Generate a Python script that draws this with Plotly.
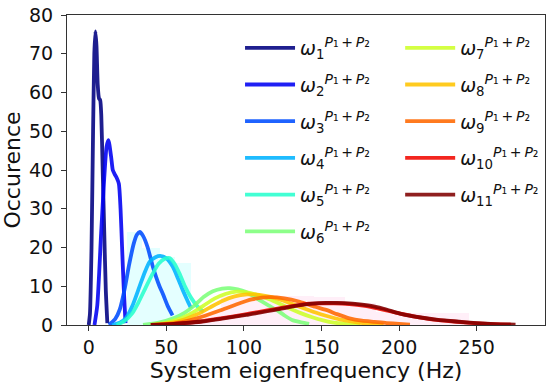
import plotly.graph_objects as go

# ---- data ----
colors = ["#000080", "#0000F3", "#004DFF", "#00B3FF", "#29FFCE", "#7DFF7A",
          "#CEFF29", "#FFC400", "#FF6800", "#F10800", "#800000"]

f1 = [0, 0.8, 1.8, 2.8, 3.6, 4.3, 5.0, 5.8, 6.6, 7.4, 8.1, 9.0, 10.0, 11.0, 12.0]
v1 = [0, 3, 20, 50, 70, 75.8, 72, 62, 58.5, 58, 54, 40, 24, 9, 0.5]

f2 = [3.7, 5.5, 8, 10, 11.5, 12.7, 14.4, 15.5, 16.6, 18, 19.4, 20.5, 21.5, 22.5, 23.7]
v2 = [0, 5, 23.7, 38, 46, 47.7, 43.5, 40, 39, 38, 36.5, 30, 20, 10, 0.5]

f3 = [13, 17, 20, 23, 26, 29, 31, 32.9, 35, 38, 41, 43.5, 45.6, 48, 51, 54]
v3 = [0, 1.5, 4, 9, 15.5, 21, 23.3, 24, 23, 20, 15.5, 12.3, 10, 7.8, 4.8, 2.5]

f4 = [15, 20, 24, 28, 32.7, 36, 39.2, 43, 46.7, 50, 54.2, 57.5, 60.6, 63.5, 66]
v4 = [0, 0.6, 1.8, 4.8, 9.9, 13.5, 16.3, 17.5, 17.8, 17.2, 15, 12, 9, 6.4, 4.3]

f5 = [18, 23, 28, 32, 37, 41.3, 45, 49, 52, 55, 58.5, 62, 66, 70, 74]
v5 = [0, 1, 3, 5.8, 9.9, 13.3, 15.8, 17.1, 17.3, 16, 13.3, 10, 7, 4.8, 3.4]

f6 = [35, 45, 55, 62, 68, 74, 80, 86, 91, 96, 101, 106, 111, 116, 121, 126, 131, 137, 142]
v6 = [0, 0.6, 1.8, 3.2, 5, 7.2, 8.7, 9.4, 9.5, 9.2, 8.6, 7.5, 6.2, 5, 3.9, 2.5, 1.3, 0.7, 0.3]

f7 = [40, 50, 60, 67, 74, 81, 88, 95, 102, 109, 116, 123, 130, 137, 144, 151, 158, 165, 175]
v7 = [0, 0.6, 1.8, 3.2, 5, 6.8, 8.0, 8.6, 8.4, 7.7, 6.7, 5.5, 4.2, 3.0, 2.0, 1.2, 0.6, 0.3, 0.1]

f8 = [42, 52, 62, 70, 78, 86, 94, 102, 110, 118, 126, 134, 142, 150, 158, 166, 174, 182, 190]
v8 = [0, 0.5, 1.5, 2.8, 4.5, 6.2, 7.4, 7.9, 7.8, 7.2, 6.2, 5.0, 3.8, 2.7, 1.8, 1.1, 0.6, 0.3, 0.1]

f9 = [45, 55, 65, 75, 85, 95, 105, 116, 126, 136, 146, 153, 160, 168, 176, 184, 192, 200, 207]
v9 = [0, 0.4, 1.2, 2.4, 3.8, 5.3, 6.6, 7.2, 6.9, 6.0, 4.7, 3.9, 2.8, 1.7, 1.1, 0.8, 0.5, 0.3, 0.1]

f10 = [40, 55, 72, 85, 100, 110, 120, 130, 142, 150, 158, 168, 179, 188, 200, 211, 222, 235, 248, 260, 272]
v10 = [0, 0.3, 0.9, 1.7, 2.7, 3.4, 4.1, 4.8, 5.5, 5.6, 5.6, 5.4, 4.9, 4.1, 3.0, 2.1, 1.4, 0.9, 0.5, 0.25, 0.1]

f11 = [40, 55, 73, 85, 101.5, 110, 120, 130, 144, 153, 160, 170, 181, 190, 202, 213, 224, 237, 250, 262, 275]
v11 = [0, 0.3, 0.9, 1.6, 2.6, 3.2, 3.9, 4.7, 5.5, 5.7, 5.7, 5.5, 5.0, 4.2, 2.8, 2.0, 1.4, 0.9, 0.5, 0.25, 0.1]

freqs = [f1, f2, f3, f4, f5, f6, f7, f8, f9, f10, f11]
vals = [v1, v2, v3, v4, v5, v6, v7, v8, v9, v10, v11]

# faint histogram bars behind the curves
hist_cyan_x = [29.5, 40, 50.5, 60.5]
hist_cyan_w = [9.5, 11.5, 10, 11]
hist_cyan_h = [24, 20, 17.6, 16]

hist_pink_x = [75, 95, 115, 135, 155, 175, 195, 215, 235]
hist_pink_w = [20, 20, 20, 20, 20, 20, 20, 20, 20]
hist_pink_h = [3, 7.5, 7.5, 7.5, 7.3, 5.6, 3.4, 3.2, 3]

x_ticks = [0, 50, 100, 150, 200, 250]
y_ticks = [0, 10, 20, 30, 40, 50, 60, 70, 80]

FONT = "DejaVu Sans"

fig = go.Figure()

fig.add_trace(go.Bar(x=hist_cyan_x, y=hist_cyan_h, width=hist_cyan_w,
                     marker=dict(color="#00FFFF", line=dict(width=0)),
                     opacity=0.1, showlegend=False, hoverinfo="skip"))
fig.add_trace(go.Bar(x=hist_pink_x, y=hist_pink_h, width=hist_pink_w,
                     marker=dict(color="#FF0090", line=dict(width=0)),
                     opacity=0.06, showlegend=False, hoverinfo="skip"))

for i in range(11):
    name = ("<i>ω</i><sub>%d</sub><sup><span style=\"font-size:14px\">"
            "<i>P</i>₁\u2009+\u2009<i>P</i>₂</span></sup>") % (i + 1)
    fig.add_trace(go.Scatter(
        x=freqs[i], y=vals[i], mode="lines", name=name,
        line=dict(color=colors[i], width=3.8, shape="spline", smoothing=0.6),
        opacity=0.88,
        legend="legend" if i < 6 else "legend2",
        legendgroup="g%d" % i,
    ))

legend_common = dict(
    font=dict(family=FONT, size=19, color="#111"),
    bgcolor="rgba(0,0,0,0)",
    itemwidth=50,
    tracegroupgap=9,
    yanchor="top",
)

fig.update_layout(
    width=550, height=387,
    margin=dict(l=67, r=5, t=15, b=62),
    paper_bgcolor="white", plot_bgcolor="white",
    barmode="overlay",
    bargap=0,
    font=dict(family=FONT, color="#111"),
    legend=dict(x=0.362, y=0.955, **legend_common),
    legend2=dict(x=0.697, y=0.955, **legend_common),
    xaxis=dict(
        range=[-14, 294], tickvals=x_ticks, ticktext=[str(t) for t in x_ticks],
        showline=True, mirror=True, linecolor="#333", linewidth=1.2,
        ticks="outside", ticklen=5, tickcolor="#333", showgrid=False, zeroline=False,
        automargin=False,
        tickfont=dict(family=FONT, size=19, color="#111"),
        title=dict(text="System eigenfrequency (Hz)", font=dict(family=FONT, size=22, color="#111"),
                   standoff=0),
    ),
    yaxis=dict(
        range=[0, 80], tickvals=y_ticks, ticktext=[str(t) for t in y_ticks],
        showline=True, mirror=True, linecolor="#333", linewidth=1.2,
        ticks="outside", ticklen=5, tickcolor="#333", showgrid=False, zeroline=False,
        automargin=False, ticklabelstandoff=4,
        tickfont=dict(family=FONT, size=19, color="#111"),
        title=dict(text="Occurence", font=dict(family=FONT, size=22, color="#111"), standoff=20),
    ),
)

fig.write_html("out.html", config={"displayModeBar": False},
               post_script="document.body.style.margin='0';document.body.style.padding='0';")
